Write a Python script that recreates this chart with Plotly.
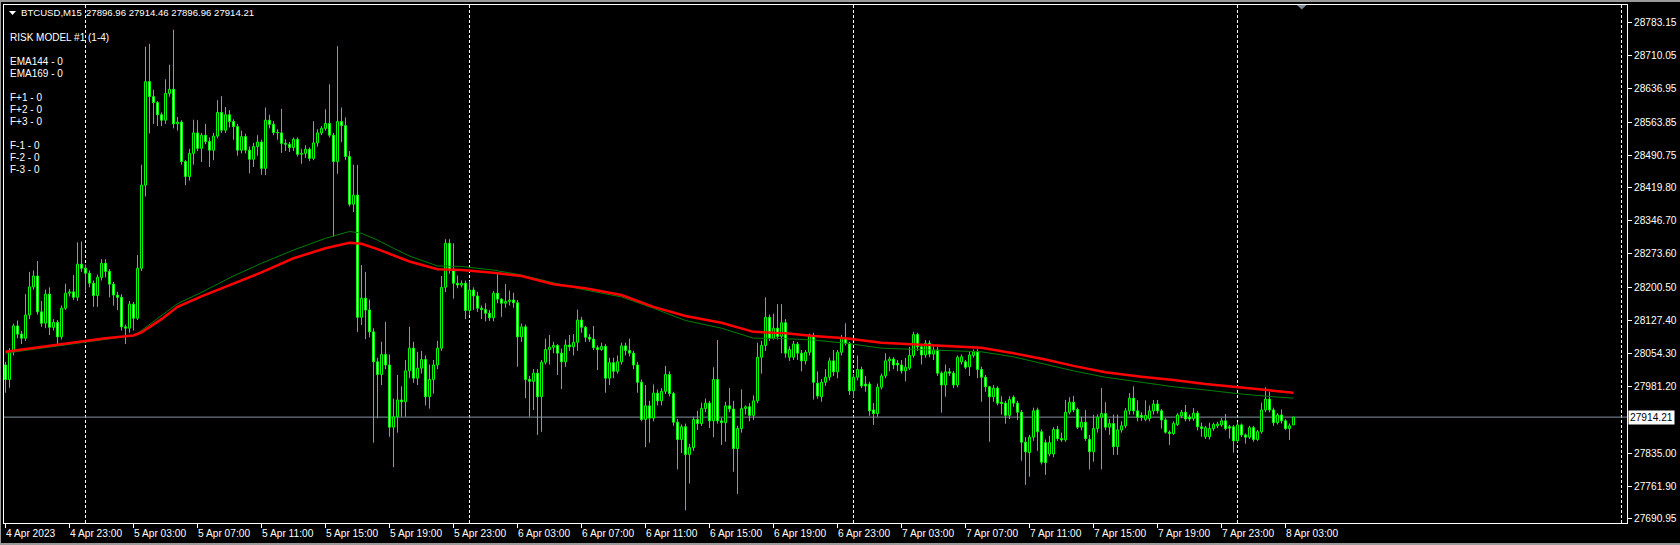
import plotly.graph_objects as go
import pandas as pd

# ---------------- data (BTCUSD, M15) ----------------
opens = [
    28029, 27997, 28058, 28115, 28097, 28088, 28139, 28201, 28225, 28146,
    28121, 28185, 28112, 28123, 28091, 28154, 28187, 28190, 28178, 28251,
    28242, 28231, 28209, 28182, 28222, 28253, 28235, 28207, 28183, 28178,
    28113, 28110, 28163, 28132, 28242, 28425, 28653, 28620, 28607, 28580,
    28568, 28627, 28636, 28560, 28564, 28477, 28444, 28495, 28540, 28506,
    28535, 28521, 28502, 28533, 28585, 28546, 28580, 28565, 28554, 28502,
    28532, 28502, 28482, 28510, 28520, 28462, 28568, 28559, 28541, 28540,
    28517, 28515, 28508, 28526, 28493, 28495, 28504, 28484, 28518, 28540,
    28550, 28561, 28535, 28477, 28565, 28556, 28488, 28383, 28403, 28134,
    28176, 28150, 28102, 28036, 28008, 28052, 28029, 27892, 27915, 27952,
    27948, 28016, 28066, 28000, 28022, 28041, 27959, 27997, 28029, 28066,
    28200, 28297, 28238, 28209, 28205, 28209, 28149, 28194, 28181, 28154,
    28151, 28143, 28133, 28187, 28174, 28165, 28169, 28172, 28166, 28091,
    28113, 27997, 27993, 28011, 27959, 28035, 28063, 28068, 28072, 28055,
    28036, 28073, 28069, 28079, 28128, 28112, 28090, 28086, 28067, 28063,
    28070, 28000, 28034, 28015, 28036, 28071, 28061, 28055, 28029, 27991,
    27909, 27939, 27912, 27967, 27950, 27971, 28008, 27966, 27903, 27865,
    27893, 27832, 27847, 27909, 27900, 27933, 27945, 27906, 27997, 27906,
    27902, 27939, 27932, 27845, 27889, 27933, 27937, 27918, 27950, 28046,
    28072, 28134, 28088, 28110, 28092, 28122, 28046, 28046, 28075, 28055,
    28038, 28057, 28093, 27989, 27959, 27991, 28002, 28038, 28014, 28057,
    28088, 28077, 27972, 28002, 28019, 27987, 27987, 27930, 27922, 27980,
    28005, 28038, 28042, 28033, 28029, 28016, 28022, 28050, 28096, 28069,
    28051, 28077, 28053, 28062, 28011, 27985, 28014, 28011, 27985, 28036,
    28036, 28025, 28050, 28058, 28019, 28002, 27981, 27959, 27978, 27947,
    27945, 27918, 27958, 27945, 27925, 27859, 27836, 27870, 27930, 27882,
    27858, 27833, 27833, 27887, 27867, 27864, 27925, 27947, 27931, 27892,
    27903, 27865, 27838, 27889, 27914, 27922, 27892, 27900, 27849, 27886,
    27895, 27928, 27956, 27928, 27918, 27909, 27911, 27928, 27943, 27928,
    27908, 27881, 27878, 27898, 27917, 27925, 27914, 27911, 27923, 27893,
    27871, 27871, 27889, 27895, 27897, 27906, 27893, 27893, 27862, 27897,
    27875, 27870, 27891, 27865, 27882, 27930, 27954, 27930, 27902, 27919,
    27906, 27889, 27896.96,
]
highs = [
    28036, 28066, 28120, 28127, 28104, 28185, 28234, 28237, 28258, 28170,
    28195, 28200, 28130, 28128, 28160, 28208, 28196, 28227, 28299, 28301,
    28250, 28237, 28215, 28228, 28262, 28262, 28240, 28212, 28190, 28185,
    28118, 28170, 28168, 28271, 28470, 28730, 28736, 28635, 28610, 28585,
    28658, 28690, 28767, 28575, 28568, 28480, 28505, 28569, 28568, 28540,
    28560, 28530, 28540, 28612, 28621, 28597, 28590, 28570, 28560, 28545,
    28538, 28510, 28518, 28535, 28525, 28596, 28580, 28566, 28548, 28593,
    28526, 28520, 28530, 28530, 28505, 28513, 28508, 28566, 28548, 28555,
    28592, 28647, 28540, 28731, 28596, 28574, 28500, 28470, 28469, 28249,
    28234, 28173, 28110, 28045, 28080, 28124, 28052, 27955, 28007, 27982,
    28040, 28113, 28080, 28058, 28060, 28050, 28030, 28040, 28082, 28225,
    28306, 28306, 28297, 28226, 28215, 28215, 28214, 28200, 28190, 28160,
    28165, 28150, 28192, 28232, 28176, 28207, 28193, 28188, 28172, 28120,
    28118, 28005, 28020, 28020, 28040, 28087, 28095, 28080, 28075, 28065,
    28085, 28095, 28097, 28151, 28135, 28115, 28097, 28115, 28072, 28078,
    28075, 28045, 28045, 28050, 28078, 28078, 28087, 28060, 28036, 27997,
    27985, 27950, 27986, 27975, 27978, 28027, 28015, 27970, 27910, 27898,
    27900, 27855, 27915, 27928, 27946, 27955, 27950, 28024, 28084, 27912,
    27948, 27978, 27950, 27895, 27975, 27940, 27945, 27962, 28078, 28082,
    28178, 28140, 28142, 28163, 28163, 28130, 28070, 28082, 28080, 28062,
    28062, 28098, 28100, 28015, 27998, 28020, 28045, 28062, 28062, 28095,
    28121, 28080, 28009, 28050, 28025, 28005, 27992, 27945, 27988, 28010,
    28055, 28047, 28046, 28040, 28040, 28045, 28069, 28102, 28100, 28075,
    28084, 28083, 28070, 28069, 28015, 28030, 28022, 28016, 28050, 28052,
    28040, 28058, 28063, 28064, 28025, 28007, 27983, 27985, 27982, 27960,
    27950, 27960, 27962, 27950, 27930, 27870, 27875, 27935, 27935, 27887,
    27865, 27873, 27892, 27895, 27880, 27952, 27958, 27961, 27935, 27915,
    27930, 27875, 27919, 27920, 27978, 27947, 27910, 27920, 27920, 27905,
    27934, 27967, 27982, 27951, 27925, 27951, 27940, 27952, 27952, 27932,
    27912, 27885, 27905, 27923, 27930, 27941, 27920, 27934, 27928, 27902,
    27895, 27902, 27902, 27904, 27912, 27921, 27897, 27897, 27903, 27900,
    27878, 27895, 27895, 27886, 27946, 27980, 27970, 27935, 27923, 27931,
    27910, 27900, 27914.46,
]
lows = [
    27968, 27979, 28050, 28088, 28075, 28082, 28130, 28195, 28140, 28113,
    28110, 28095, 28105, 28071, 28085, 28150, 28180, 28172, 28170, 28234,
    28190, 28200, 28157, 28157, 28215, 28222, 28178, 28160, 28150, 28105,
    28075, 28100, 28105, 28128, 28236, 28400, 28539, 28560, 28555, 28555,
    28560, 28620, 28550, 28545, 28470, 28425, 28435, 28470, 28500, 28476,
    28515, 28465, 28480, 28528, 28540, 28540, 28552, 28525, 28490, 28495,
    28495, 28451, 28465, 28490, 28448, 28447, 28550, 28535, 28525, 28496,
    28500, 28498, 28500, 28488, 28472, 28485, 28478, 28480, 28510, 28535,
    28545, 28530, 28312, 28450, 28520, 28480, 28378, 28366, 28102, 28117,
    28086, 28090, 27858, 27912, 27985, 28020, 27871, 27804, 27880, 27915,
    27915, 28000, 27990, 27985, 28010, 27940, 27933, 27966, 28020, 28060,
    28190, 28230, 28175, 28198, 28200, 28130, 28140, 28150, 28146, 28130,
    28125, 28126, 28125, 28165, 28135, 28155, 28160, 28155, 28025, 28080,
    27956, 27915, 27930, 27875, 27882, 28030, 28030, 28055, 28007, 27976,
    28025, 28060, 28050, 28060, 28100, 28080, 28080, 28062, 28018, 28060,
    27968, 27985, 28000, 28010, 28030, 28050, 28048, 28020, 27968, 27905,
    27848, 27858, 27905, 27940, 27940, 27965, 27960, 27895, 27799, 27835,
    27709, 27768, 27840, 27886, 27895, 27925, 27890, 27870, 27900, 27853,
    27860, 27925, 27794, 27745, 27880, 27920, 27905, 27908, 27945, 28010,
    28060, 28082, 28085, 28085, 28055, 28045, 28038, 28040, 28040, 28015,
    28030, 28050, 27953, 27955, 27948, 27983, 27995, 28005, 28000, 28050,
    28072, 27963, 27957, 27995, 27978, 27970, 27917, 27897, 27915, 27975,
    28000, 28015, 28020, 28015, 28010, 27993, 28018, 28045, 28060, 28030,
    28045, 28046, 28040, 28005, 27924, 27959, 28005, 27978, 27980, 28030,
    28020, 28005, 28045, 28000, 27948, 27970, 27860, 27948, 27940, 27920,
    27900, 27910, 27937, 27908, 27818, 27765, 27783, 27862, 27840, 27810,
    27787, 27828, 27826, 27862, 27860, 27860, 27920, 27925, 27888, 27885,
    27862, 27799, 27816, 27880, 27799, 27885, 27875, 27831, 27831, 27880,
    27890, 27920, 27920, 27905, 27906, 27905, 27905, 27920, 27922, 27889,
    27878, 27853, 27875, 27895, 27912, 27905, 27905, 27906, 27885, 27871,
    27866, 27865, 27884, 27890, 27893, 27885, 27867, 27836, 27858, 27870,
    27856, 27866, 27860, 27862, 27878, 27925, 27925, 27895, 27898, 27900,
    27886, 27864, 27896.96,
]
closes = [
    27997, 28058, 28115, 28097, 28088, 28139, 28201, 28225, 28146, 28121,
    28185, 28112, 28123, 28091, 28154, 28187, 28190, 28178, 28251, 28242,
    28231, 28209, 28182, 28222, 28253, 28235, 28207, 28183, 28178, 28113,
    28110, 28163, 28132, 28242, 28425, 28653, 28620, 28607, 28580, 28568,
    28627, 28636, 28560, 28564, 28477, 28444, 28495, 28540, 28506, 28535,
    28521, 28502, 28533, 28585, 28546, 28580, 28565, 28554, 28502, 28532,
    28502, 28482, 28510, 28520, 28462, 28568, 28559, 28541, 28540, 28517,
    28515, 28508, 28526, 28493, 28495, 28504, 28484, 28518, 28540, 28550,
    28561, 28535, 28477, 28565, 28556, 28488, 28383, 28403, 28134, 28176,
    28150, 28102, 28036, 28008, 28052, 28029, 27892, 27915, 27952, 27948,
    28016, 28066, 28000, 28022, 28041, 27959, 27997, 28029, 28066, 28200,
    28297, 28238, 28209, 28205, 28209, 28149, 28194, 28181, 28154, 28151,
    28143, 28133, 28187, 28174, 28165, 28169, 28172, 28166, 28091, 28113,
    27997, 27993, 28011, 27959, 28035, 28063, 28068, 28072, 28055, 28036,
    28073, 28069, 28079, 28128, 28112, 28090, 28086, 28067, 28063, 28070,
    28000, 28034, 28015, 28036, 28071, 28061, 28055, 28029, 27991, 27909,
    27939, 27912, 27967, 27950, 27971, 28008, 27966, 27903, 27865, 27893,
    27832, 27847, 27909, 27900, 27933, 27945, 27906, 27997, 27906, 27902,
    27939, 27932, 27845, 27889, 27933, 27937, 27918, 27950, 28046, 28072,
    28134, 28088, 28110, 28092, 28122, 28055, 28063, 28075, 28055, 28038,
    28057, 28093, 27991, 27961, 27991, 28002, 28038, 28014, 28057, 28088,
    28077, 27972, 28002, 28019, 27983, 27983, 27928, 27922, 27980, 28005,
    28038, 28042, 28029, 28029, 28016, 28024, 28050, 28096, 28069, 28051,
    28077, 28053, 28062, 28011, 27985, 28014, 28011, 27985, 28046, 28047,
    28024, 28051, 28058, 28019, 28002, 27981, 27959, 27978, 27945, 27944,
    27918, 27953, 27945, 27925, 27859, 27838, 27870, 27928, 27882, 27815,
    27814, 27858, 27887, 27867, 27864, 27925, 27947, 27930, 27892, 27903,
    27867, 27838, 27889, 27914, 27922, 27892, 27900, 27849, 27886, 27895,
    27928, 27956, 27928, 27914, 27914, 27918, 27928, 27943, 27928, 27908,
    27881, 27878, 27900, 27919, 27925, 27910, 27910, 27923, 27893, 27889,
    27891, 27889, 27898, 27899, 27906, 27889, 27890, 27862, 27897, 27875,
    27870, 27891, 27865, 27882, 27930, 27954, 27930, 27902, 27919, 27906,
    27889, 27895, 27914.21,
]

ema_idx = [0, 9, 20, 25, 32, 34, 39, 43, 49, 57, 64, 72, 80, 86, 89, 93, 97, 101,
           108, 114, 122, 129, 137, 145, 154, 162, 170, 179, 187, 195, 202, 210,
           219, 227, 235, 244, 252, 260, 267, 275, 284, 292, 300, 309, 317, 322]
ema169 = [28058, 28069, 28082, 28088, 28094, 28101, 28130, 28157, 28180, 28209,
          28233, 28264, 28286, 28298, 28296, 28284, 28270, 28257, 28240, 28238,
          28232, 28225, 28207, 28198, 28183, 28157, 28137, 28122, 28102, 28099,
          28093, 28088, 28078, 28075, 28071, 28067, 28055, 28041, 28027, 28013,
          28003, 27996, 27987, 27979, 27972, 27968]
ema144 = [28055, 28066, 28080, 28086, 28094, 28105, 28138, 28164, 28189, 28225,
          28253, 28282, 28308, 28323, 28319, 28304, 28286, 28269, 28247, 28246,
          28238, 28227, 28210, 28194, 28179, 28154, 28127, 28110, 28088, 28087,
          28084, 28077, 28066, 28063, 28061, 28058, 28047, 28031, 28016, 28002,
          27991, 27981, 27974, 27965, 27959, 27956]

price_ticks = [28783.15, 28710.05, 28636.95, 28563.85, 28490.75, 28419.80, 28346.70,
               28273.60, 28200.50, 28127.40, 28054.30, 27981.20, 27835.00, 27761.90,
               27690.95]
time_labels = ["4 Apr 2023", "4 Apr 23:00", "5 Apr 03:00", "5 Apr 07:00", "5 Apr 11:00",
               "5 Apr 15:00", "5 Apr 19:00", "5 Apr 23:00", "6 Apr 03:00", "6 Apr 07:00",
               "6 Apr 11:00", "6 Apr 15:00", "6 Apr 19:00", "6 Apr 23:00", "7 Apr 03:00",
               "7 Apr 07:00", "7 Apr 11:00", "7 Apr 15:00", "7 Apr 19:00", "7 Apr 23:00",
               "8 Apr 03:00"]
info_lines = ["RISK MODEL #1 (1-4)", "", "EMA144 - 0", "EMA169 - 0", "",
              "F+1 - 0", "F+2 - 0", "F+3 - 0", "", "F-1 - 0", "F-2 - 0", "F-3 - 0"]
symbol = "BTCUSD,M15"

# ---------------- geometry ----------------
W, H = 1680, 545
LM, RM, TM, BM = 4, 53, 5, 22
PW, PH = W - LM - RM, H - TM - BM


def px(p):
    return (p - LM) / PW


def py(p):
    return (H - BM - p) / PH


FONT = "Liberation Sans, Arial, sans-serif"
AX_SIZE = 10.2
TXT_SIZE = 10
HDR_SIZE = 9.6
LIME = "#00FF00"

n = len(closes)
xs = list(range(n))
bar_times = pd.date_range("2023-04-04 19:00", periods=406, freq="15min")
tick_pos = [bar_times.get_loc(t) for t in
            pd.date_range("2023-04-04 19:00", periods=len(time_labels), freq="4h")]
day_pos = [i for i, t in enumerate(bar_times) if t.hour == 0 and t.minute == 0]

body_base = [min(o, c) for o, c in zip(opens, closes)]
body_h = [abs(c - o) for o, c in zip(opens, closes)]
body_fill = ["#000000" if c >= o else "#FFFFFF" for o, c in zip(opens, closes)]

wx, wy = [], []
for i in xs:
    top, bot = max(opens[i], closes[i]), min(opens[i], closes[i])
    wx += [i, i, None, i, i, None]
    wy += [highs[i], top, None, bot, lows[i], None]

fig = go.Figure()
fig.add_trace(go.Bar(x=xs, y=body_h, base=body_base, width=0.5,
                     marker=dict(color=body_fill, line=dict(color=LIME, width=1)),
                     hoverinfo="skip"))
fig.add_trace(go.Scatter(x=wx, y=wy, mode="lines", line=dict(color=LIME, width=1),
                         hoverinfo="skip"))
fig.add_trace(go.Scatter(x=ema_idx, y=ema144, mode="lines",
                         line=dict(color="#008000", width=1), hoverinfo="skip"))
fig.add_trace(go.Scatter(x=ema_idx, y=ema169, mode="lines",
                         line=dict(color="#FF0000", width=2.5), hoverinfo="skip"))

shapes = []
for d in day_pos:
    shapes.append(dict(type="line", xref="x", yref="paper", x0=d, x1=d, y0=0, y1=1,
                       line=dict(color="white", width=1, dash="3px,2px"), layer="below"))
shapes.append(dict(type="line", xref="paper", yref="y", x0=0, x1=1,
                   y0=closes[-1], y1=closes[-1],
                   line=dict(color="#8593A1", width=1), layer="below"))
# window frame bits
shapes.append(dict(type="rect", xref="paper", yref="paper", x0=px(0), x1=px(W),
                   y0=py(2), y1=py(0), fillcolor="#9a9a9a", line=dict(width=0)))
shapes.append(dict(type="rect", xref="paper", yref="paper", x0=px(0), x1=px(1),
                   y0=py(H), y1=py(0), fillcolor="#9a9a9a", line=dict(width=0)))
shapes.append(dict(type="rect", xref="paper", yref="paper", x0=px(0), x1=px(W),
                   y0=py(H), y1=py(H - 2), fillcolor="#9a9a9a", line=dict(width=0)))
# header triangle and chart-shift marker
shapes.append(dict(type="path", xref="paper", yref="paper",
                   path=f"M {px(9)},{py(11)} L {px(16)},{py(11)} L {px(12.5)},{py(15)} Z",
                   fillcolor="white", line=dict(width=0)))
shapes.append(dict(type="path", xref="paper", yref="paper",
                   path=f"M {px(1297)},{py(5)} L {px(1306.5)},{py(5)} L {px(1301.75)},{py(9.5)} Z",
                   fillcolor="#7d8a97", line=dict(width=0)))

annotations = []
for p, t in zip(tick_pos, time_labels):
    annotations.append(dict(x=p, xref="x", y=0, yref="paper", text=t, showarrow=False,
                            xanchor="left", yanchor="middle", xshift=-2, yshift=-10,
                            font=dict(family=FONT, size=AX_SIZE, color="white")))
annotations.append(dict(x=1, xref="paper", y=closes[-1], yref="y",
                        text=f"{closes[-1]:.2f}", showarrow=False, xanchor="left",
                        yanchor="middle", xshift=1, bgcolor="white", borderpad=1,
                        font=dict(family=FONT, size=AX_SIZE, color="black")))
annotations.append(dict(x=px(19), xref="paper", y=py(12.7), yref="paper", text=symbol,
                        showarrow=False, xanchor="left", yanchor="middle",
                        font=dict(family=FONT, size=HDR_SIZE, color="white")))
annotations.append(dict(x=px(84), xref="paper", y=py(12.7), yref="paper",
                        text=f"{opens[-1]:.2f} {highs[-1]:.2f} {lows[-1]:.2f} {closes[-1]:.2f}",
                        showarrow=False, xanchor="left", yanchor="middle",
                        font=dict(family=FONT, size=HDR_SIZE, color="white")))
for k, line in enumerate(info_lines):
    if line:
        annotations.append(dict(x=px(8), xref="paper", y=py(37.3 + 12 * k), yref="paper",
                                text=line, showarrow=False, xanchor="left",
                                yanchor="middle",
                                font=dict(family=FONT, size=TXT_SIZE, color="white")))

fig.update_layout(
    width=W, height=H,
    margin=dict(l=LM, r=RM, t=TM, b=BM, pad=0, autoexpand=False),
    paper_bgcolor="black", plot_bgcolor="black",
    showlegend=False, hovermode=False,
    bargap=0, bargroupgap=0,
    shapes=shapes, annotations=annotations,
    xaxis=dict(range=[-0.375, 405.375], tickvals=tick_pos, showticklabels=False,
               ticks="outside", ticklen=4, tickcolor="white", tickwidth=1,
               showgrid=False, zeroline=False, showline=True, linecolor="white",
               linewidth=1, mirror=True, fixedrange=True),
    yaxis=dict(range=[27681.05, 28821.7], side="right", tickvals=price_ticks,
               ticktext=[f"{v:.2f}" for v in price_ticks],
               ticks="outside", ticklen=4, tickcolor="white", tickwidth=1,
               tickfont=dict(family=FONT, size=AX_SIZE, color="white"),
               showgrid=False, zeroline=False, showline=True, linecolor="white",
               linewidth=1, mirror=True, fixedrange=True),
)

fig.write_html("out.html", config={"displayModeBar": False, "staticPlot": True},
               post_script="document.body.style.margin='0';document.body.style.overflow='hidden';")
